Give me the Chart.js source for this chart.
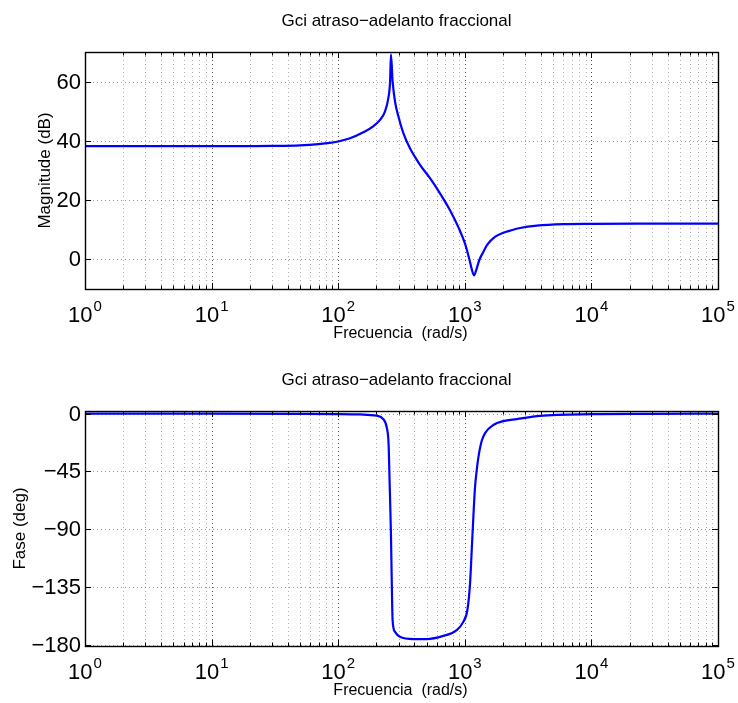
<!DOCTYPE html>
<html><head><meta charset="utf-8">
<script src="https://cdn.jsdelivr.net/npm/chart.js@4"></script>
<style>
html,body{margin:0;padding:0;background:#fff;}
#wrap{position:relative;width:738px;height:703px;background:#fff;}
canvas{position:absolute;left:0;}
</style></head><body>
<div id="wrap">
<canvas id="c1" width="738" height="352" style="top:0px"></canvas>
<canvas id="c2" width="738" height="351" style="top:352px"></canvas>
</div>
<script>
// ---- texts ----
const plotTitle = 'Gci atraso\u2212adelanto fraccional';
const xAxisTitle = 'Frecuencia  (rad/s)';
const magAxisTitle = 'Magnitude (dB)';
const phaseAxisTitle = 'Fase (deg)';

// ---- ticks ----
const xMajorTicks = [1, 10, 100, 1000, 10000, 100000];
const xTickExponents = ['0', '1', '2', '3', '4', '5'];
const xMinorMultipliers = [2, 3, 4, 5, 6, 7, 8, 9];
const magTicks = [0, 20, 40, 60];
const phaseTicks = [-180, -135, -90, -45, 0];

// ---- magnitude series ----
const magFreq = [1, 5, 10, 20, 30, 50, 70, 86, 100, 124, 158, 189, 214, 234, 249, 257, 261, 269, 281, 299, 327, 369, 443, 531, 637, 764, 889, 1004, 1100, 1133, 1182, 1239, 1300, 1400, 1500, 1730, 2014, 2275, 2730, 3700, 6000, 10000, 30000, 100000];
const magDb = [38.2, 38.2, 38.2, 38.25, 38.3, 38.5, 38.9, 39.3, 39.8, 40.9, 42.9, 44.9, 47.1, 49.9, 54.5, 60.1, 69.2, 60.1, 53.3, 48.2, 42.6, 37.5, 31.9, 27.4, 22.3, 16.6, 10.9, 5.3, -0.9, -3.2, -5.4, -3.2, -0.3, 2.5, 4.9, 7.6, 9.0, 9.7, 10.6, 11.4, 11.9, 12.0, 12.05, 12.05];

// ---- phase series ----
const phaseFreq = [1, 10, 50, 100, 149, 201, 227, 242, 250, 255, 261, 265, 269, 281, 307, 392, 499, 676, 863, 973, 1048, 1100, 1134, 1168, 1204, 1241, 1280, 1361, 1450, 1680, 2014, 2570, 3930, 10000, 30000, 100000];
const phaseDeg = [0, -0.05, -0.2, -0.4, -0.7, -1.6, -4.3, -10.9, -23.7, -54.8, -93.6, -132, -161, -170, -173.8, -175.6, -175.6, -173.1, -168.6, -162.2, -153, -132.4, -106.5, -80.7, -57.4, -44.5, -34.1, -21.2, -15, -8.9, -5.9, -4.3, -1.8, -0.5, -0.2, -0.05];

const FONT = '"Liberation Sans", Arial, Helvetica, sans-serif';
const xAllTicks = [];
xMajorTicks.forEach((d, i) => {
  xAllTicks.push(d);
  if (i < xMajorTicks.length - 1) xMinorMultipliers.forEach(m => xAllTicks.push(d * m));
});

function fmtY(v) { return v < 0 ? '\u2212' + Math.abs(v) : String(v); }

function bodePlugin(o) {
  return {
    id: 'bode',
    beforeDatasetsDraw(chart) {
      const {ctx, chartArea: a, scales: {x, y}} = chart;
      ctx.save();
      ctx.beginPath(); ctx.rect(a.left, a.top, a.right - a.left, a.bottom - a.top); ctx.clip();
      ctx.lineWidth = 1;
      ctx.setLineDash([1, 3]);
      x.ticks.forEach(t => {
        const px = Math.round(x.getPixelForValue(t.value)) + 0.5;
        const major = xMajorTicks.includes(t.value);
        ctx.strokeStyle = major ? 'rgba(0,0,0,0.7)' : 'rgba(0,0,0,0.32)';
        ctx.beginPath(); ctx.moveTo(px, a.top); ctx.lineTo(px, a.bottom); ctx.stroke();
      });
      y.ticks.forEach(t => {
        const py = Math.round(y.getPixelForValue(t.value)) + 0.5;
        ctx.strokeStyle = 'rgba(0,0,0,0.4)';
        ctx.beginPath(); ctx.moveTo(a.left, py); ctx.lineTo(a.right, py); ctx.stroke();
      });
      ctx.restore();
    },
    afterDatasetsDraw(chart) {
      const {ctx, chartArea: a, scales: {x, y}} = chart;
      ctx.save();
      ctx.strokeStyle = '#000';
      ctx.lineWidth = 1;
      x.ticks.forEach(t => {
        const px = Math.round(x.getPixelForValue(t.value)) + 0.5;
        const len = xMajorTicks.includes(t.value) ? 6 : 3.5;
        ctx.beginPath();
        ctx.moveTo(px, a.bottom); ctx.lineTo(px, a.bottom - len);
        ctx.moveTo(px, a.top); ctx.lineTo(px, a.top + len);
        ctx.stroke();
      });
      y.ticks.forEach(t => {
        const py = Math.round(y.getPixelForValue(t.value)) + 0.5;
        ctx.beginPath();
        ctx.moveTo(a.left, py); ctx.lineTo(a.left + 6, py);
        ctx.moveTo(a.right, py); ctx.lineTo(a.right - 6, py);
        ctx.stroke();
      });
      ctx.lineWidth = 1.4;
      ctx.strokeRect(Math.round(a.left) + 0.5, Math.round(a.top) + 0.5, Math.round(a.right - a.left), Math.round(a.bottom - a.top));
      ctx.restore();
    },
    afterDraw(chart) {
      const {ctx, chartArea: a, scales: {x, y}} = chart;
      const cx = (a.left + a.right) / 2;
      ctx.save();
      ctx.fillStyle = '#000';
      // title
      ctx.font = '17px ' + FONT;
      ctx.textAlign = 'center'; ctx.textBaseline = 'middle';
      ctx.fillText(plotTitle, cx - 5, o.titleY);
      // x axis title
      ctx.font = '16px ' + FONT;
      ctx.fillText(xAxisTitle, cx - 1, a.bottom + 45);
      // x tick labels 10^n
      ctx.textBaseline = 'alphabetic'; ctx.textAlign = 'left';
      xMajorTicks.forEach((v, i) => {
        const px = x.getPixelForValue(v);
        ctx.font = '22px ' + FONT;
        const w1 = ctx.measureText('10').width;
        ctx.font = '15px ' + FONT;
        const w2 = ctx.measureText(xTickExponents[i]).width;
        const start = px - (w1 + w2 + 1) / 2;
        ctx.font = '22px ' + FONT;
        ctx.fillText('10', start, a.bottom + 33);
        ctx.font = '15px ' + FONT;
        ctx.fillText(xTickExponents[i], start + w1 + 1, a.bottom + 22);
      });
      // y tick labels
      ctx.font = '22px ' + FONT;
      ctx.textAlign = 'right'; ctx.textBaseline = 'middle';
      y.ticks.forEach(t => ctx.fillText(fmtY(t.value), a.left - 4, y.getPixelForValue(t.value) + 1));
      // y axis title
      ctx.save();
      ctx.translate(o.yTitleX, (a.top + a.bottom) / 2);
      ctx.rotate(-Math.PI / 2);
      ctx.font = '17px ' + FONT;
      ctx.textAlign = 'center'; ctx.textBaseline = 'middle';
      ctx.fillText(o.yTitle, 0, 0);
      ctx.restore();
      ctx.restore();
    }
  };
}

function makeChart(id, freq, vals, yMin, yMax, yTicks, pad, o) {
  return new Chart(document.getElementById(id), {
    type: 'line',
    data: {
      datasets: [{
        data: freq.map((f, i) => ({x: f, y: vals[i]})),
        borderColor: '#0000ff',
        borderWidth: 2.2,
        pointRadius: 0,
        fill: false,
        cubicInterpolationMode: 'monotone'
      }]
    },
    options: {
      responsive: false,
      animation: false,
      devicePixelRatio: 1,
      layout: {padding: pad},
      plugins: {legend: {display: false}, tooltip: {enabled: false}, title: {display: false}},
      scales: {
        x: {
          type: 'logarithmic', min: 1, max: 100000, bounds: 'data',
          grid: {display: false}, border: {display: false}, ticks: {display: false},
          afterBuildTicks: s => { s.ticks = xAllTicks.map(v => ({value: v})); },
          afterFit: s => { s.height = 0; }
        },
        y: {
          type: 'linear', min: yMin, max: yMax, bounds: 'data',
          grid: {display: false}, border: {display: false}, ticks: {display: false},
          afterBuildTicks: s => { s.ticks = yTicks.map(v => ({value: v})); },
          afterFit: s => { s.width = 85; }
        }
      }
    },
    plugins: [bodePlugin(o)]
  });
}

makeChart('c1', magFreq, magDb, -10, 70, magTicks,
  {left: 0, right: 20, top: 52, bottom: 63},
  {titleY: 21, yTitle: magAxisTitle, yTitleX: 45});
makeChart('c2', phaseFreq, phaseDeg, -181, 2, phaseTicks,
  {left: 0, right: 20, top: 59, bottom: 57},
  {titleY: 28, yTitle: phaseAxisTitle, yTitleX: 20});
</script>
</body></html>
